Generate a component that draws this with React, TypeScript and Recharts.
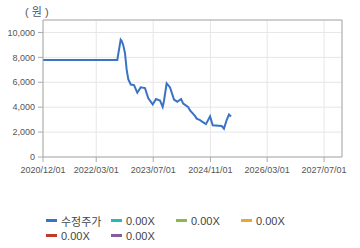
import { LineChart, Line, XAxis, YAxis, CartesianGrid, ReferenceLine, Legend } from 'recharts'

const dates = [
  '2020-12-01', '2022-08-28', '2022-09-26', '2022-10-05', '2022-10-18', '2022-11-02',
  '2022-11-16', '2022-11-30', '2022-12-21', '2023-01-18', '2023-02-15', '2023-03-16',
  '2023-04-22', '2023-05-20', '2023-06-27', '2023-07-25', '2023-08-28', '2023-09-20',
  '2023-10-01', '2023-10-24', '2023-11-22', '2023-12-26', '2024-01-23', '2024-02-24',
  '2024-03-14', '2024-04-26', '2024-05-11', '2024-06-22', '2024-07-07', '2024-08-04',
  '2024-08-19', '2024-09-24', '2024-10-29', '2024-11-21', '2025-02-06', '2025-02-25',
  '2025-03-20', '2025-04-09', '2025-04-26',
]

const prices = [
  7780, 7780, 9420, 9310, 8980, 8330,
  7020, 6250, 5820, 5770, 5160, 5590,
  5530, 4720, 4220, 4660, 4540, 4020,
  4500, 5920, 5590, 4610, 4440, 4660,
  4280, 4000, 3740, 3300, 3080, 2970,
  2860, 2640, 3260, 2540, 2490, 2280,
  2970, 3410, 3260,
]

const xTicks = ['2020-12-01', '2022-03-01', '2023-07-01', '2024-11-01', '2026-03-01', '2027-07-01']
const yTicks = [0, 2000, 4000, 6000, 8000, 10000]

const legendNames = ['수정주가', '0.00X', '0.00X', '0.00X', '0.00X', '0.00X']
const legendColors = ['#3a72c4', '#2bb5c0', '#8db84a', '#e8a838', '#c0392b', '#8a5a9e']

const toTime = (s: string) => new Date(s + 'T00:00:00Z').getTime()

const data = dates.map((d, i) => ({ t: toTime(d), price: prices[i] }))

const xStart = toTime('2020-12-01')
const xEnd = toTime('2027-12-01')
const yMax = 11000

const fmtDate = (v: number) => {
  const d = new Date(v)
  const mm = String(d.getUTCMonth() + 1).padStart(2, '0')
  const dd = String(d.getUTCDate()).padStart(2, '0')
  return `${d.getUTCFullYear()}/${mm}/${dd}`
}

const FONT = "'Liberation Sans', 'Noto Sans CJK KR', sans-serif"

function ChartLegend() {
  return (
    <div style={{ display: 'flex', flexWrap: 'wrap', width: 270, marginLeft: 46, fontFamily: FONT, fontSize: 11, color: '#444' }}>
      {legendNames.map((name, i) => (
        <div key={i} style={{ width: 65, height: 15, display: 'flex', alignItems: 'center' }}>
          <span style={{ display: 'inline-block', width: 11, height: 3, background: legendColors[i], marginRight: 4 }} />
          <span>{name}</span>
        </div>
      ))}
    </div>
  )
}

export default function App() {
  return (
    <div style={{ position: 'absolute', left: 0, top: 0, width: 360, height: 248, background: '#fff' }}>
      <div style={{ position: 'absolute', left: 25, top: 3, fontFamily: FONT, fontSize: 11, color: '#555', whiteSpace: 'pre' }}>( 원 )</div>
      <LineChart width={360} height={248} data={data} margin={{ top: 20, right: 18, bottom: 41, left: 0 }}>
        <CartesianGrid stroke="#e6e6e6" />
        <XAxis
          dataKey="t"
          type="number"
          domain={[xStart, xEnd]}
          ticks={xTicks.map(toTime)}
          tickFormatter={fmtDate}
          stroke="#aaa"
          tick={{ fill: '#555', fontSize: 9, fontFamily: FONT }}
          tickSize={5}
          tickMargin={5}
          height={20}
          interval={0}
        />
        <YAxis
          type="number"
          domain={[0, yMax]}
          ticks={yTicks}
          tickFormatter={(v: number) => v.toLocaleString('en-US')}
          stroke="#aaa"
          tick={{ fill: '#555', fontSize: 9, fontFamily: FONT }}
          tickSize={5}
          tickMargin={3}
          width={43}
          interval={0}
        />
        <ReferenceLine y={yMax} stroke="#aaa" />
        <ReferenceLine x={xEnd} stroke="#aaa" />
        <Line
          type="linear"
          dataKey="price"
          stroke="#3a72c4"
          strokeWidth={2}
          dot={false}
          isAnimationActive={false}
        />
        <Legend
          content={() => <ChartLegend />}
          wrapperStyle={{ position: 'absolute', left: 0, top: 213, width: 360 }}
        />
      </LineChart>
    </div>
  )
}
